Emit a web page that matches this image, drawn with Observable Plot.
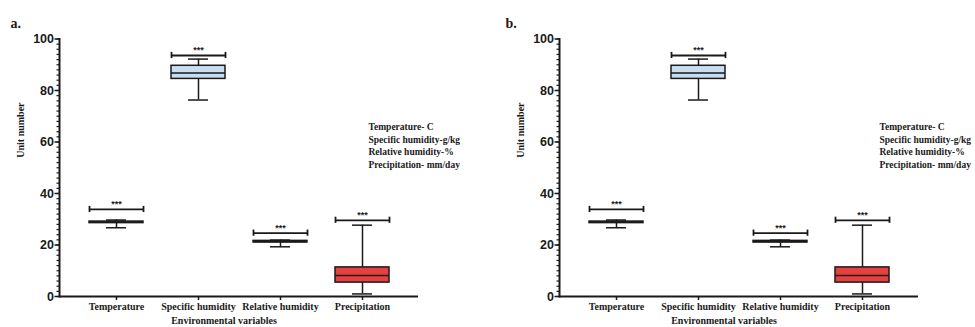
<!DOCTYPE html>
<html>
<head>
<meta charset="utf-8">
<script src="https://cdn.jsdelivr.net/npm/d3@7"></script>
<script src="https://cdn.jsdelivr.net/npm/@observablehq/plot@0.6"></script>
<style>
  html, body { margin: 0; padding: 0; background: #fff; }
  #wrap { display: flex; width: 975px; height: 327px; }
  #wrap svg { overflow: visible; }
</style>
</head>
<body>
<div id="wrap"></div>
<script>
// ---- data ----
const categories = ["Temperature", "Specific humidity", "Relative humidity", "Precipitation"];
const whiskerLow  = [26.7, 76.3, 19.3, 1.0];
const q1          = [28.5, 84.5, 21.0, 5.4];
const median      = [28.8, 86.8, 21.3, 8.2];
const q3          = [29.1, 89.6, 21.6, 11.3];
const whiskerHigh = [29.7, 92.2, 21.9, 27.7];
const sigLevel    = [33.8, 93.6, 24.6, 29.6];
const sigLabel    = ["***", "***", "***", "***"];
const boxFill     = ["#ffffff", "#c8dcf2", "#ffffff", "#e8403e"];
const majorTicks  = [0, 20, 40, 60, 80, 100];
const minorTicks  = d3.range(0, 101, 2);
const legendLines = ["Temperature- C", "Specific humidity-g/kg", "Relative humidity-%", "Precipitation- mm/day"];
const yTitle = "Unit number";
const xTitle = "Environmental variables";

const rows = categories.map((c, i) => ({
  cat: c, lo: whiskerLow[i], q1: q1[i], med: median[i], q3: q3[i], hi: whiskerHigh[i],
  sig: sigLevel[i], sigText: sigLabel[i], fill: boxFill[i]
}));

const SERIF = "'Liberation Serif', 'Times New Roman', serif";
const SANS = "'Liberation Sans', Arial, sans-serif";

function panel(letter, width, marginRight, legendDx, letterDx) {
  const ink = "#1a1a1a";
  return Plot.plot({
    width, height: 327,
    marginLeft: 59, marginRight, marginTop: 38.5, marginBottom: 31,
    style: { fontFamily: SERIF, background: "transparent", color: ink },
    x: { type: "band", domain: categories, paddingInner: 0.344, paddingOuter: 0.352, axis: null },
    y: { domain: [0, 100], axis: null },
    marks: [
      // minor + major y ticks
      Plot.axisY({ ticks: minorTicks, tickSize: 2.5, text: null, label: null, stroke: ink, strokeWidth: 1.2 }),
      Plot.axisY({ ticks: majorTicks, tickSize: 4.5, tickPadding: 1, label: null, stroke: ink, strokeWidth: 1.5,
                   fontFamily: SANS, fontWeight: "bold", fontSize: 12.5 }),
      Plot.axisX({ tickSize: 4, tickPadding: 2, label: null, stroke: ink, strokeWidth: 1.5,
                   fontFamily: SERIF, fontWeight: "bold", fontSize: 10 }),
      // axis lines
      Plot.frame({ anchor: "left", stroke: ink, strokeWidth: 2 }),
      Plot.ruleY([0], { stroke: ink, strokeWidth: 2 }),
      // whiskers
      Plot.ruleX(rows, { x: "cat", y1: "lo", y2: "q1", stroke: ink, strokeWidth: 1.5 }),
      Plot.ruleX(rows, { x: "cat", y1: "q3", y2: "hi", stroke: ink, strokeWidth: 1.5 }),
      Plot.tickY(rows, { x: "cat", y: "lo", insetLeft: 17, insetRight: 17, stroke: ink, strokeWidth: 1.5 }),
      Plot.tickY(rows, { x: "cat", y: "hi", insetLeft: 17, insetRight: 17, stroke: ink, strokeWidth: 1.5 }),
      // boxes
      Plot.barY(rows, { x: "cat", y1: "q1", y2: "q3", fill: "fill", stroke: ink, strokeWidth: 1.5 }),
      Plot.tickY(rows, { x: "cat", y: "med", stroke: ink, strokeWidth: 1.5 }),
      // significance bars
      Plot.tickY(rows, { x: "cat", y: "sig", insetLeft: 0, insetRight: 0, stroke: ink, strokeWidth: 1.8 }),
      Plot.ruleX(rows, { x: "cat", y1: d => d.sig - 1.2, y2: d => d.sig + 1.2, dx: -27, stroke: ink, strokeWidth: 1.8 }),
      Plot.ruleX(rows, { x: "cat", y1: d => d.sig - 1.2, y2: d => d.sig + 1.2, dx: 27, stroke: ink, strokeWidth: 1.8 }),
      Plot.text(rows, { x: "cat", y: "sig", text: "sigText", dy: -5, fontSize: 9, fontWeight: "bold", fill: ink,
                        fontFamily: SANS }),
      // titles
      Plot.text([yTitle], { frameAnchor: "left", rotate: -90, dx: -39, dy: -10, fontSize: 10, fontWeight: "bold", fill: ink, fontFamily: SERIF }),
      Plot.text([xTitle], { frameAnchor: "bottom", dx: -15, dy: 27, fontSize: 10, fontWeight: "bold", fill: ink, fontFamily: SERIF }),
      Plot.text([letter], { frameAnchor: "top-left", dx: letterDx, dy: -21, textAnchor: "start", fontSize: 14, fontWeight: "bold", fill: ink, fontFamily: SERIF }),
      Plot.text([legendLines.join("\n")], { frameAnchor: "top-left", dx: legendDx, dy: 82, textAnchor: "start",
                        lineAnchor: "top", lineHeight: 1.33, fontSize: 9.5, fontWeight: "bold", fill: ink, fontFamily: SERIF })
    ]
  });
}

const wrap = document.getElementById("wrap");
wrap.append(panel("a.", 500, 82, 309, -49));
wrap.append(panel("b.", 475, 57, 320, -54));
</script>
</body>
</html>
